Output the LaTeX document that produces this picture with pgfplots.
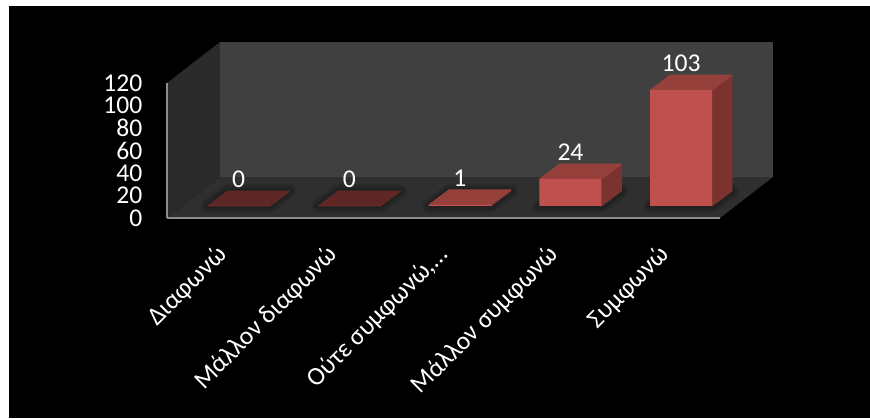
\documentclass[border=0pt]{standalone}
\usepackage{pgfplots}
\usepackage{pgfplotstable}
\usepackage{fontspec}
\setmainfont{Carlito}
\pgfplotsset{compat=1.18}

\definecolor{wallback}{HTML}{404040}
\definecolor{wallside}{HTML}{2A2A2A}
\definecolor{wallfloor}{HTML}{2F2F2F}
\definecolor{axisgray}{HTML}{8C8C8C}
\definecolor{barfront}{HTML}{C0504D}
\definecolor{bartop}{HTML}{96403C}
\definecolor{barside}{HTML}{7C3330}
\definecolor{barflat}{HTML}{5E2725}

\pgfplotstableread{
x v
0 0
1 0
2 1
3 24
4 103
}\answers

% Soft shadow, side face and top face of one bar: position, value, top colour
\newcommand{\barfaces}[3]{%
  \pgfmathsetmacro{\xl}{#1-0.28}%
  \pgfmathsetmacro{\xr}{#1+0.28}%
  \pgfmathsetmacro{\xbl}{#1-0.099}%
  \pgfmathsetmacro{\xbr}{#1+0.461}%
  \pgfmathsetmacro{\yb}{#2+13.33}%
  \foreach \lw in {14,10,6}{%
    \edef\shadowplot{\noexpand\addplot[forget plot,draw=black,fill=black,opacity=0.10,
      line width=\lw*0.75pt,line join=round]
      coordinates {(\xl,0) (\xr,0) (\xbr,13.33) (\xbl,13.33)} -- cycle;}%
    \shadowplot
  }%
  \addplot[forget plot,fill=barside,draw=barside,line width=0.6pt,line join=round]
    coordinates {(\xr,0) (\xbr,13.33) (\xbr,\yb) (\xr,#2)} -- cycle;
  \addplot[forget plot,fill=#3,draw=#3,line width=0.6pt,line join=round]
    coordinates {(\xl,#2) (\xr,#2) (\xbr,\yb) (\xbl,\yb)} -- cycle;
}

\begin{document}
\begin{tikzpicture}
  % page: thin white margin on top and left, black panel
  \fill[white] (0pt,0pt) rectangle (652.5pt,313.5pt);
  \fill[black] (6.75pt,0pt) rectangle (652.5pt,309pt);

  % room walls, value axis and category labels
  \begin{axis}[
    at={(125.25pt,150pt)}, anchor=south west,
    scale only axis, width=414.75pt, height=101.25pt,
    xmin=-0.5, xmax=4.5, ymin=0, ymax=120,
    clip=false, axis on top,
    axis x line=bottom, axis y line=left,
    axis line style={draw=axisgray,line width=1.1pt,-},
    major tick length=0pt,
    xtick={0,1,2,3,4},
    xticklabels={Διαφωνώ,Μάλλον διαφωνώ,{Ούτε συμφωνώ,…},Μάλλον συμφωνώ,Συμφωνώ},
    ytick={0,20,40,60,80,100,120},
    /pgf/number format/assume math mode=true,
    tick label style={text=white,font=\fontsize{19.2}{19.2}\selectfont},
    yticklabel style={xshift=-15pt},
    xticklabel style={xshift=-5.5pt,yshift=-14pt,rotate=45,anchor=north east},
  ]
    \addplot[fill=wallside,draw=none] coordinates {(-0.5,0) (-0.021,36.4) (-0.021,156.4) (-0.5,120)} -- cycle;
    \addplot[fill=wallback,draw=none] coordinates {(-0.021,36.4) (4.979,36.4) (4.979,156.4) (-0.021,156.4)} -- cycle;
    \addplot[fill=wallfloor,draw=none] coordinates {(-0.5,0) (4.5,0) (4.979,36.4) (-0.021,36.4)} -- cycle;
  \end{axis}

  % bars: value 0 sits on the floor, set back from the front edge of the room
  \begin{axis}[
    at={(125.25pt,150pt)}, anchor=south west,
    scale only axis, width=414.75pt, height=101.25pt,
    xmin=-0.648, xmax=4.352, ymin=-10.67, ymax=109.33,
    clip=false, hide axis,
  ]
    \barfaces{0}{0}{barflat}
    \barfaces{1}{0}{barflat}
    \barfaces{2}{1}{bartop}
    \barfaces{3}{24}{bartop}
    \barfaces{4}{103}{bartop}
    \addplot[ybar,bar width=46.5pt,bar shift=0pt,fill=barfront,draw=none,
      nodes near coords,
      /pgf/number format/assume math mode=true,
      nodes near coords style={text=white,font=\fontsize{19.2}{19.2}\selectfont,
        anchor=base,yshift=14pt}]
      table[x=x,y=v] {\answers};
  \end{axis}
\end{tikzpicture}
\end{document}
